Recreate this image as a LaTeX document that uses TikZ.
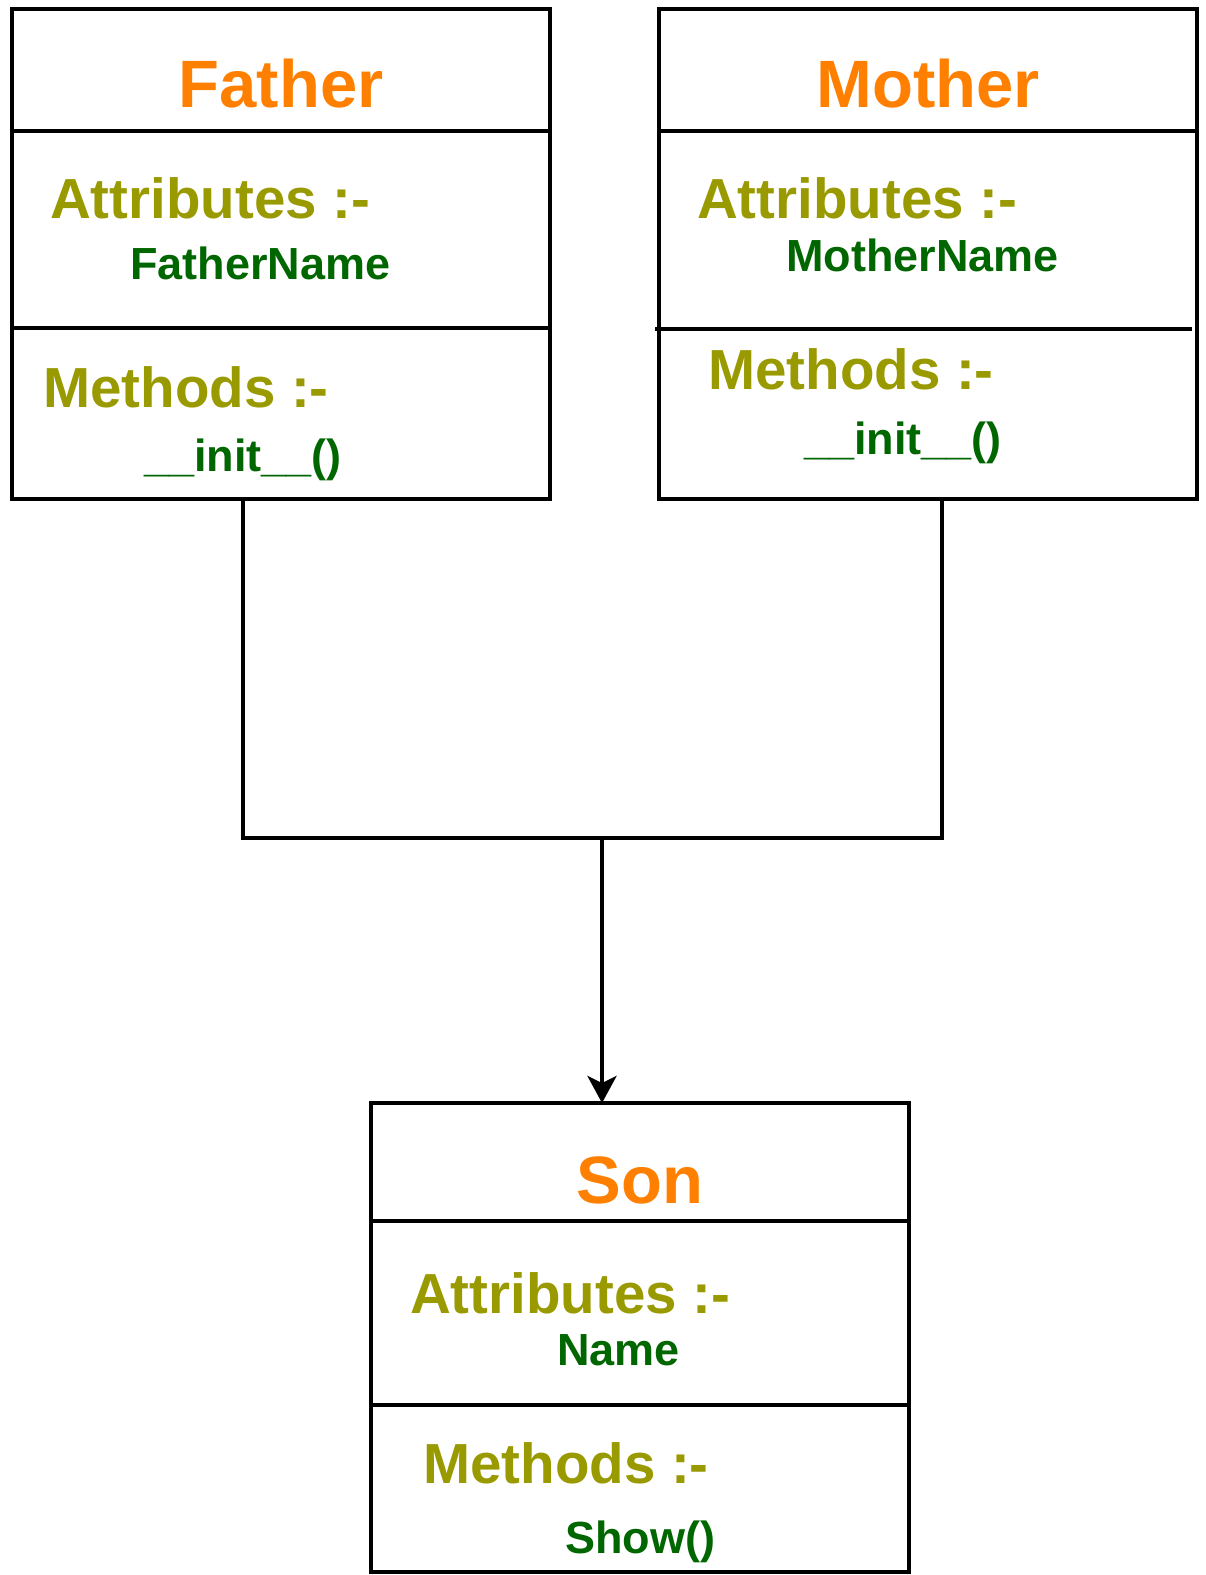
\documentclass[tikz,border=0pt]{standalone}
\usepackage{fontspec}
\setmainfont{Liberation Sans}
\usetikzlibrary{arrows.meta}
\definecolor{titleorange}{HTML}{FF8000}
\definecolor{olivetext}{HTML}{999900}
\definecolor{greentext}{HTML}{006600}
\tikzset{
  x=1pt, y=-1pt,
  classbox/.style={draw=black, line width=4.5pt, fill=white, outer sep=0pt, inner sep=0pt, rectangle, anchor=north west},
  divider/.style={draw=black, line width=4.5pt},
  conn/.style={draw=black, line width=4pt},
  titletext/.style={anchor=base, inner sep=0pt, text=titleorange, font=\fontsize{67}{80}\selectfont\bfseries},
  headtext/.style={anchor=base west, inner sep=0pt, text=olivetext, font=\fontsize{56.5}{68}\selectfont\bfseries},
  itemtext/.style={anchor=base west, inner sep=0pt, text=greentext, font=\fontsize{45}{54}\selectfont\bfseries},
}
\begin{document}
\begin{tikzpicture}
\useasboundingbox[fill=white] (0,0) rectangle (1206,1575);

% Father
\node[classbox, minimum width=538pt, minimum height=490pt] (father) at (12,9) {};
\draw[divider] (father.west |- 0,131) -- (father.east |- 0,131);
\draw[divider] (father.west |- 0,328) -- (father.east |- 0,328);
\node[titletext] (fathertitle) at (281,107) {Father};
\node[headtext] (fatherattr) at (50,218) {Attributes :-};
\node[itemtext] (fathername) at (130,279) {FatherName};
\node[headtext] (fathermeth) at (43,407) {Methods :-};
\node[itemtext] (fatherinit) at (144,471) {\_\_init\_\_()};

% Mother
\node[classbox, minimum width=538pt, minimum height=490pt] (mother) at (659,9) {};
\draw[divider] (mother.west |- 0,131) -- (mother.east |- 0,131);
\draw[divider] (655,329) -- (1192,329);
\node[titletext] (mothertitle) at (928,107) {Mother};
\node[headtext] (motherattr) at (697,218) {Attributes :-};
\node[itemtext] (mothername) at (786,271) {MotherName};
\node[headtext] (mothermeth) at (708,389) {Methods :-};
\node[itemtext] (motherinit) at (804,454) {\_\_init\_\_()};

% Son
\node[classbox, minimum width=538pt, minimum height=469pt] (son) at (371,1103) {};
\draw[divider] (son.west |- 0,1221) -- (son.east |- 0,1221);
\draw[divider] (son.west |- 0,1405) -- (son.east |- 0,1405);
\node[titletext] (sontitle) at (640,1203) {Son};
\node[headtext] (sonattr) at (410,1313) {Attributes :-};
\node[itemtext] (sonname) at (557,1365) {Name};
\node[headtext] (sonmeth) at (423,1483) {Methods :-};
\node[itemtext] (sonshow) at (565,1553) {Show()};

% Connectors
\coordinate (junction) at (602,838);
\draw[conn, line join=miter] ([xshift=-38pt]father.south) |- (junction) -| ([xshift=14pt]mother.south);
\draw[conn, -{Stealth[length=27pt, width=29pt, inset=7pt]}] (junction) -- ([xshift=-38pt]son.north);
\end{tikzpicture}
\end{document}
